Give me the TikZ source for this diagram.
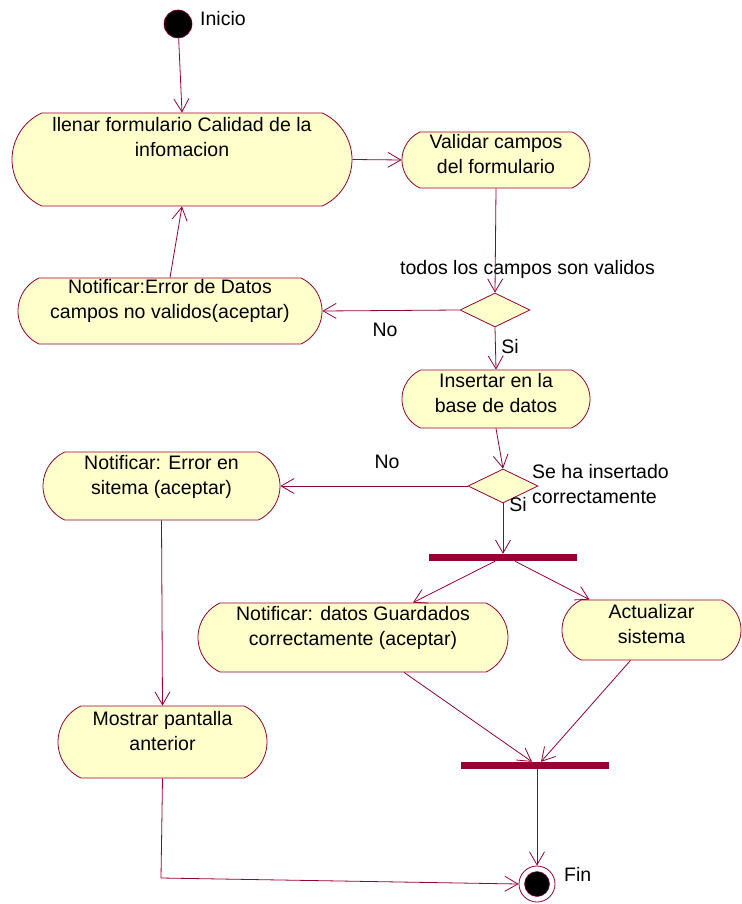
\documentclass[tikz,border=0pt]{standalone}
\usepackage{fontspec}
\setmainfont{Liberation Sans}
\usetikzlibrary{shapes.misc,shapes.geometric,arrows.meta}
\definecolor{rosered}{HTML}{990033}
\definecolor{rosefill}{HTML}{FFFFCC}
\tikzset{
  act/.style={rounded rectangle, rounded rectangle arc length=130, draw=rosered, fill=rosefill, line width=0.8pt, inner sep=0pt},
  dec/.style={diamond, draw=rosered, fill=rosefill, line width=0.8pt, inner sep=0pt, minimum width=70pt, minimum height=34pt},
  syncbar/.style={rectangle, fill=rosered, draw=none, inner sep=0pt, minimum width=148pt, minimum height=7pt},
  txt/.style={font=\fontsize{19.5}{25}\selectfont, align=center, inner sep=0pt, text=black},
  lbl/.style={font=\fontsize{19.5}{25}\selectfont, inner sep=0pt, text=black},
  flow/.style={draw=rosered, line width=0.8pt, -{Straight Barb[length=13pt,width=15pt]}},
}
\begin{document}
\begin{tikzpicture}[x=1pt,y=-1pt]
\useasboundingbox (0,0) rectangle (741,904);
% start
\node[circle, fill=black, draw=rosered, line width=0.6pt, minimum size=28pt, inner sep=0pt] (start) at (178,24) {};
\node[lbl, anchor=west] (inicio) at (200,19) {Inicio};
% activities
\node[act, minimum width=340pt, minimum height=93pt] (n1) at (182,159.5) {};
\node[txt] (n1t) at (182,137) {llenar formulario Calidad de la\\infomacion};
\node[act, minimum width=188pt, minimum height=56pt] (n2) at (496,160) {};
\node[txt] (n2t) at (496,154) {Validar campos\\del formulario};
\node[act, minimum width=304pt, minimum height=66pt] (n3) at (170,311) {};
\node[txt] (n3t) at (170,300.5) {Notificar:Error de Datos\\campos no validos(aceptar)};
\node[dec] (d1) at (495,310) {};
\node[act, minimum width=188pt, minimum height=58pt] (n4) at (496,399) {};
\node[txt] (n4t) at (496,393.5) {Insertar en la\\base de datos};
\node[dec] (d2) at (503,486) {};
\node[act, minimum width=237pt, minimum height=68pt] (n5) at (161.5,486) {};
\node[txt] (n5t) at (161.5,476.5) {Notificar: Error en\\sitema (aceptar)};
\node[syncbar] (bar1) at (503,557.5) {};
\node[act, minimum width=310pt, minimum height=69pt] (n6) at (353,637.5) {};
\node[txt] (n6t) at (353,627.5) {Notificar: datos Guardados\\correctamente (aceptar)};
\node[act, minimum width=179pt, minimum height=60pt] (n7) at (651.5,630) {};
\node[txt] (n7t) at (651.5,624) {Actualizar\\sistema};
\node[act, minimum width=209pt, minimum height=72pt] (n8) at (162.5,742) {};
\node[txt] (n8t) at (162.5,731) {Mostrar pantalla\\anterior};
\node[syncbar] (bar2) at (535,765.5) {};
% end
\node[circle, fill=white, draw=rosered, line width=0.8pt, minimum size=36pt, inner sep=0pt] (end) at (537,884) {};
\node[circle, fill=black, draw=rosered, line width=0.5pt, minimum size=25pt, inner sep=0pt] (endin) at (537,884) {};
\node[lbl, anchor=west] (fin) at (564,874) {Fin};
% labels
\node[lbl] (g1) at (527.5,269) {todos los campos son validos};
\node[lbl] (no1) at (385,330) {No};
\node[lbl] (si1) at (510,347) {Si};
\node[lbl] (no2) at (387,462) {No};
\node[lbl, align=left, anchor=west] (g2) at (532,484) {Se ha insertado\\correctamente};
\node[lbl] (si2) at (518,505) {Si};
% connectors
\coordinate (c1) at (161,878);
\draw[flow] (start) -- (n1.north);
\draw[flow] (n1.east) -- (n2.west);
\draw[flow] (n2.south) -- (d1.north);
\draw[flow] (d1.west) -- (n3.east);
\draw[flow] (n3.north) -- (n1.south);
\draw[flow] (d1.south) -- (n4.north);
\draw[flow] (n4.south) -- (d2.north);
\draw[flow] (d2.west) -- (n5.east);
\draw[flow] (d2.south) -- (bar1.north);
\draw[flow] ([xshift=-8pt]bar1.south) -- ([xshift=60pt]n6.north);
\draw[flow] ([xshift=12pt]bar1.south) -- ([xshift=-62pt]n7.north);
\draw[flow] ([xshift=51pt]n6.south) -- ([xshift=-3pt]bar2.north);
\draw[flow] ([xshift=-21pt]n7.south) -- ([xshift=6pt]bar2.north);
\draw[flow] (n5.south) -- (n8.north);
\draw[flow] (n8.south) -- (c1) -- (end.west);
\draw[flow] ([xshift=2pt]bar2.south) -- (end.north);
\end{tikzpicture}
\end{document}
